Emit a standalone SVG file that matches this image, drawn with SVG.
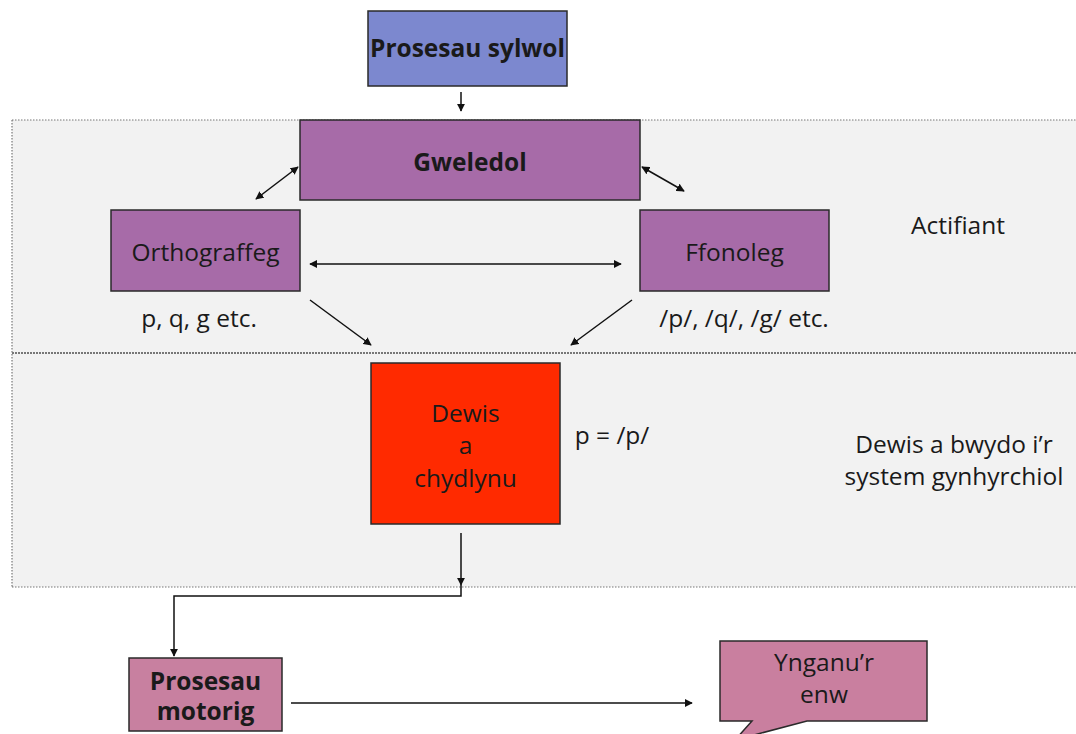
<svg xmlns="http://www.w3.org/2000/svg" width="1076" height="734" viewBox="0 0 1076 734">
<defs>
<marker id="ah" viewBox="0 0 10 10" refX="9" refY="5" markerWidth="5.5" markerHeight="5.5" orient="auto-start-reverse" markerUnits="strokeWidth">
<path d="M0,0 L10,5 L0,10 z" fill="#111"/>
</marker>
<style>
.t{font-family:"Open Sans","Liberation Sans",sans-serif;font-size:24.5px;fill:#1a1a1a;text-anchor:middle}
.b{font-weight:bold}
.box{stroke:#2a2a2a;stroke-width:1.5}
.pur{fill:#a76ba8}
.c{fill:none;stroke:#111;stroke-width:1.5}
.dot{fill:none;stroke:#777;stroke-width:1.2;stroke-dasharray:1.5 1.5}
</style>
</defs>
<rect width="1076" height="734" fill="#fff"/>
<g id="panel">
<rect x="12" y="120" width="1070" height="467" fill="#f2f2f2"/>
<path class="dot" d="M12,120 H1076 M12,120 V587 M12,587 H1076"/>
<path d="M12,353 H1076" stroke="#777" stroke-width="2" stroke-dasharray="2 1"/>
</g>
<g id="sylwol">
<rect class="box" x="368" y="11" width="199" height="75" fill="#7c88cf"/>
<text class="t b" x="467.5" y="57" font-size="23.5">Prosesau sylwol</text>
</g>
<g id="gweledol">
<rect class="box pur" x="300" y="120" width="340" height="80"/>
<text class="t b" x="470" y="171" font-size="23.5">Gweledol</text>
</g>
<g id="orthograffeg">
<rect class="box pur" x="111" y="210" width="189" height="81"/>
<text class="t" x="205.5" y="261" fill="#2a0f2a">Orthograffeg</text>
</g>
<g id="ffonoleg">
<rect class="box pur" x="640" y="210" width="189" height="81"/>
<text class="t" x="734.5" y="261" fill="#2a0f2a">Ffonoleg</text>
</g>
<g id="dewis">
<rect class="box" x="371" y="363" width="189" height="161" fill="#ff2a00"/>
<text class="t" x="465.5" y="422" fill="#ffe6dc">Dewis</text>
<text class="t" x="465.5" y="454" fill="#ffe6dc">a</text>
<text class="t" x="465.5" y="487" fill="#ffe6dc">chydlynu</text>
</g>
<g id="motorig">
<rect class="box" x="129" y="658" width="153" height="73" fill="#c880a0"/>
<text class="t b" x="205.5" y="690" font-size="22">Prosesau</text>
<text class="t b" x="205.5" y="720" font-size="22">motorig</text>
</g>
<g id="ynganu">
<path class="box" d="M720,641 H927 V721 H807 L735,740 L752,721 H720 Z" fill="#c97f9f"/>
<text class="t" x="824" y="671">Ynganu’r</text>
<text class="t" x="824" y="703">enw</text>
</g>
<g id="labels">
<text class="t" x="199" y="327">p, q, g etc.</text>
<text class="t" x="744" y="327">/p/, /q/, /g/ etc.</text>
<text class="t" x="958" y="234">Actifiant</text>
<text class="t" x="612" y="444">p = /p/</text>
<text class="t" x="954" y="453">Dewis a bwydo i’r</text>
<text class="t" x="954" y="485">system gynhyrchiol</text>
</g>
<g id="connectors">
<path class="c" d="M461,92 V111" marker-end="url(#ah)"/>
<path class="c" d="M256,199 L298,167" marker-start="url(#ah)" marker-end="url(#ah)"/>
<path class="c" d="M642,167 L684,191" marker-start="url(#ah)" marker-end="url(#ah)"/>
<path class="c" d="M310,264 H621" marker-start="url(#ah)" marker-end="url(#ah)"/>
<path class="c" d="M310,300 L371,345" marker-end="url(#ah)"/>
<path class="c" d="M632,300 L571,345" marker-end="url(#ah)"/>
<path class="c" d="M461,533 V585" marker-end="url(#ah)"/>
<path class="c" d="M461,585 V596 H174 V656" marker-end="url(#ah)"/>
<path class="c" d="M291,703 H692" marker-end="url(#ah)"/>
</g>
</svg>
